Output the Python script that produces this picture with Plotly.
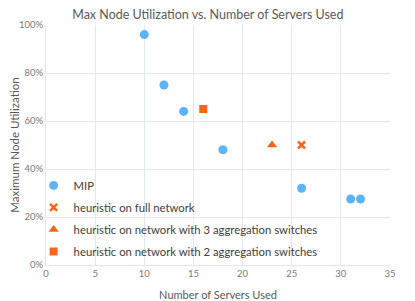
import plotly.graph_objects as go

mip_x = [10, 12, 14, 18, 26, 31, 32]
mip_y = [0.96, 0.75, 0.64, 0.48, 0.32, 0.275, 0.275]
full_x = [26]
full_y = [0.50]
agg3_x = [23]
agg3_y = [0.50]
agg2_x = [16]
agg2_y = [0.65]

blue = "#5DB3F7"
orange = "#F4661B"
font = "Lato, Carlito, Liberation Sans, sans-serif"
grid = "#E2E8EA"

fig = go.Figure()
fig.add_trace(go.Scatter(x=mip_x, y=mip_y, mode="markers", name="MIP", legendgroup="a",
                         marker=dict(symbol="circle", size=9, color=blue)))
fig.add_trace(go.Scatter(x=full_x, y=full_y, mode="markers", name="heuristic on full network", legendgroup="b",
                         marker=dict(symbol="x-thin", size=7, color=orange, line=dict(width=2.5, color=orange))))
fig.add_trace(go.Scatter(x=agg3_x, y=agg3_y, mode="markers", name="heuristic on network with 3 aggregation switches", legendgroup="c",
                         marker=dict(symbol="triangle-up", size=9, color=orange)))
fig.add_trace(go.Scatter(x=agg2_x, y=agg2_y, mode="markers", name="heuristic on network with 2 aggregation switches", legendgroup="d",
                         marker=dict(symbol="square", size=8, color=orange)))

# page body has an 8px default margin, so the figure is sized to fill the window
fig.update_layout(
    width=407, height=293,
    margin=dict(l=38, r=25, t=17, b=36, autoexpand=False),
    paper_bgcolor="white", plot_bgcolor="white",
    font=dict(family=font, color="#595959", size=9),
    title=dict(text="Max Node Utilization vs. Number of Servers Used", x=0.491, xanchor="center", xref="container",
               y=0.978, yanchor="middle", font=dict(size=12.5, color="#595959", family=font)),
    showlegend=True,
    legend=dict(x=-0.036, y=0.392, xanchor="left", yanchor="top", bgcolor="rgba(0,0,0,0)",
                font=dict(size=11.3, color="#404040", family=font), tracegroupgap=3,
                itemwidth=30),
)
fig.update_xaxes(range=[0, 35], dtick=5, tick0=0, showgrid=True, gridcolor=grid, gridwidth=1,
                 zeroline=False, showline=True, linecolor=grid, mirror=False, automargin=False,
                 ticks="", tickfont=dict(size=9.5, color="#7a7a7a"),
                 title=dict(text="Number of Servers Used", font=dict(size=11, color="#595959")))
fig.update_yaxes(range=[0, 1], dtick=0.2, tick0=0, tickformat=".0%", showgrid=True, gridcolor=grid,
                 zeroline=False, showline=True, linecolor=grid, ticks="", automargin=False,
                 tickfont=dict(size=9.5, color="#7a7a7a"),
                 title=dict(text="Maximum Node Utilization", font=dict(size=11.5, color="#595959")))

fig.write_html("out.html")
